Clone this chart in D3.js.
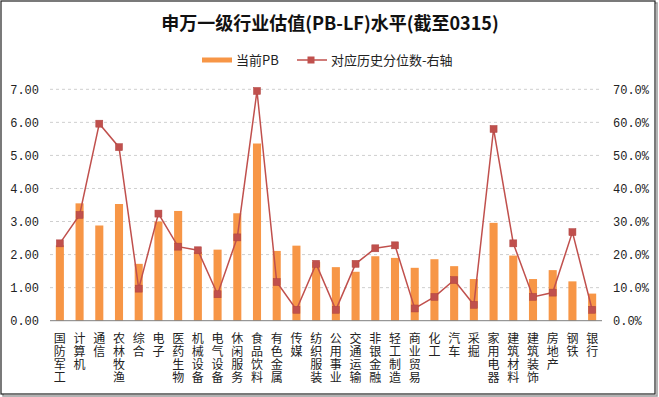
<!DOCTYPE html>
<html>
<head>
<meta charset="utf-8">
<style>
body {margin: 0; background: #fff;}
svg {display: block;}
text {font-family: "Noto Sans CJK SC", "Noto Sans", sans-serif; fill: #222;}
.tick {font-family: "Liberation Mono", "DejaVu Sans Mono", monospace; font-size: 12px;}
</style>
<script src="https://d3js.org/d3.v7.min.js"></script>
</head>
<body>
<svg id="vis" width="659" height="397"></svg>
<script>
// 行业
var categories = ["国防军工","计算机","通信","农林牧渔","综合","电子","医药生物","机械设备","电气设备","休闲服务",
  "食品饮料","有色金属","传媒","纺织服装","公用事业","交通运输","非银金融","轻工制造","商业贸易","化工",
  "汽车","采掘","家用电器","建筑材料","建筑装饰","房地产","钢铁","银行"];
// 当前PB
var pbValues = [2.28,3.55,2.88,3.53,1.72,3.00,3.32,2.08,2.15,3.25,
  5.36,2.11,2.27,1.78,1.62,1.48,1.95,1.90,1.60,1.86,
  1.65,1.26,2.96,1.97,1.26,1.53,1.19,0.82];
// 对应历史分位数 (%)
var pctValues = [23.4,32.0,59.6,52.5,9.7,32.4,22.4,21.3,8.0,25.2,
  69.5,11.7,3.3,17.2,3.3,17.2,21.9,22.8,3.7,7.2,
  12.3,4.8,58.0,23.4,7.2,8.5,26.8,3.3];
var leftTicks = [0,1,2,3,4,5,6,7];
var rightTicks = [0,10,20,30,40,50,60,70];

var svg = d3.select("#vis");
var barColor = "#F79646", lineColor = "#C0504D";

// outer frame
svg.append("rect").attr("x",3).attr("y",3).attr("width",654).attr("height",393)
  .attr("fill","none").attr("stroke","#9a9a9a").attr("stroke-width",1.5);
svg.append("rect").attr("x",1).attr("y",1).attr("width",654).attr("height",393)
  .attr("fill","#fff").attr("stroke","#222").attr("stroke-width",1.2);

var x = d3.scaleBand().domain(categories).range([50,602]).paddingInner(0.59).paddingOuter(0.295);
var yL = d3.scaleLinear().domain([0,7]).range([320.7,89.3]);
var yR = d3.scaleLinear().domain([0,70]).range([320.7,89.3]);

// title
svg.append("text").attr("x",330).attr("y",30).attr("text-anchor","middle")
  .style("font-size","18px").style("font-weight","bold").style("fill","#111")
  .text("申万一级行业估值(PB-LF)水平(截至0315)");

// legend
var lg = svg.append("g");
lg.append("rect").attr("x",202).attr("y",57.5).attr("width",30).attr("height",5).attr("fill",barColor);
lg.append("text").attr("x",236).attr("y",60).attr("dy","0.35em").style("font-size","13px").text("当前PB");
lg.append("line").attr("x1",297).attr("x2",327).attr("y1",60).attr("y2",60)
  .attr("stroke",lineColor).attr("stroke-width",1.5);
lg.append("rect").attr("x",307.5).attr("y",56.5).attr("width",7).attr("height",7).attr("fill",lineColor);
lg.append("text").attr("x",331).attr("y",60).attr("dy","0.35em").style("font-size","13px").text("对应历史分位数-右轴");

// grid
svg.append("g").selectAll("line").data(leftTicks.filter(function(d){return d>0;})).enter()
  .append("line").attr("x1",50).attr("x2",602)
  .attr("y1",function(d){return yL(d);}).attr("y2",function(d){return yL(d);})
  .attr("stroke","#cfcfcf").attr("stroke-dasharray","3,3");

// left axis labels
svg.append("g").selectAll("text").data(leftTicks).enter().append("text")
  .attr("class","tick").attr("x",39).attr("y",function(d){return yL(d);}).attr("dy","0.35em")
  .attr("text-anchor","end").text(function(d){return d3.format(".2f")(d);});

// right axis labels
svg.append("g").selectAll("text").data(rightTicks).enter().append("text")
  .attr("class","tick").attr("x",613).attr("y",function(d){return yR(d);}).attr("dy","0.35em")
  .text(function(d){return d3.format(".1f")(d)+"%";});

// bars
svg.append("g").selectAll("rect").data(pbValues).enter().append("rect")
  .attr("x",function(d,i){return x(categories[i]);})
  .attr("width",x.bandwidth())
  .attr("y",function(d){return yL(d);})
  .attr("height",function(d){return yL(0)-yL(d);})
  .attr("fill",barColor);

// baseline
svg.append("line").attr("x1",50).attr("x2",602).attr("y1",yL(0)).attr("y2",yL(0))
  .attr("stroke","#7f7f7f").attr("stroke-width",1);

// line + markers
var cx = function(d,i){return x(categories[i]) + x.bandwidth()/2;};
var line = d3.line().x(cx).y(function(d){return yR(d);});
svg.append("path").datum(pctValues).attr("d",line)
  .attr("fill","none").attr("stroke",lineColor).attr("stroke-width",1.5);
svg.append("g").selectAll("rect").data(pctValues).enter().append("rect")
  .attr("x",function(d,i){return cx(d,i)-3.5;})
  .attr("y",function(d){return yR(d)-3.5;})
  .attr("width",7).attr("height",7)
  .attr("fill",lineColor).attr("stroke","#b04440").attr("stroke-width",0.5);

// vertical category labels, one char per row
var labG = svg.append("g").style("font-size","12px");
categories.forEach(function(c){
  var xc = x(c) + x.bandwidth()/2;
  labG.append("text")
    .attr("transform","translate(" + xc + ",332)")
    .style("writing-mode","vertical-rl")
    .style("text-orientation","upright")
    .style("letter-spacing","1px")
    .text(c);
});
</script>
</body>
</html>
